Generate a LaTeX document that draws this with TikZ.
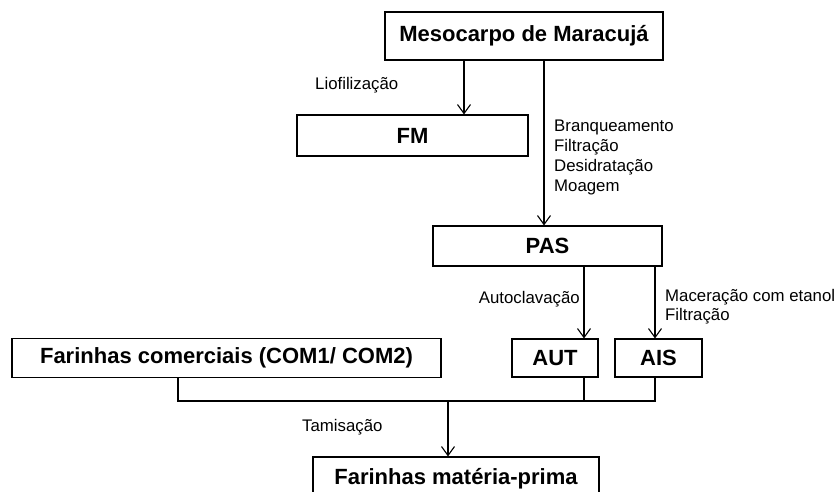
\documentclass[tikz,border=0pt]{standalone}
\usepackage{fontspec}
\setmainfont{Liberation Sans}
\usetikzlibrary{arrows.meta}
\tikzset{
  box/.style={draw, line width=1.1pt, rectangle, inner sep=0pt, font=\fontsize{22}{26}\selectfont\bfseries},
  lbl/.style={inner sep=0pt, font=\fontsize{16.8}{20}\selectfont, align=left},
  conn/.style={line width=1.1pt},
  arr/.style={conn, -{Straight Barb[length=9pt,width=13pt,line width=1.1pt]}}
}
\begin{document}
\begin{tikzpicture}[x=1pt,y=-1pt]
\useasboundingbox (0,0) rectangle (838,491);
\clip (0,0) rectangle (838,491);
% boxes
\node[box, minimum width=278pt, minimum height=48pt] (meso) at (524,36) {Mesocarpo de Maracujá};
\node[box, minimum width=231pt, minimum height=41pt] (fm) at (412.5,135.5) {FM};
\node[box, minimum width=229pt, minimum height=40pt] (pas) at (547.5,246) {PAS};
\node[box, minimum width=429pt, minimum height=39pt] (fc) at (226.5,358) {Farinhas comerciais (COM1/ COM2)};
\node[box, minimum width=86pt, minimum height=38pt] (aut) at (555,358) {AUT};
\node[box, minimum width=87pt, minimum height=38pt] (ais) at (658.5,358) {AIS};
\node[box, minimum width=286pt, minimum height=44pt] (bot) at (456,479) {Farinhas matéria-prima};
% labels
\node[lbl, anchor=west] (l1) at (315,85) {Liofilização};
\node[lbl, anchor=north west] (l2) at (554,120) {Branqueamento\\Filtração\\Desidratação\\Moagem};
\node[lbl, anchor=east] (l3) at (580,299) {Autoclavação};
\node[lbl, anchor=north west, font=\fontsize{16.8}{18.5}\selectfont] (l4) at (665,289.5) {Maceração com etanol\\Filtração};
\node[lbl, anchor=west] (l5) at (302,427) {Tamisação};
% connectors
\draw[arr] (meso.south -| 464,0) -- (fm.north -| 464,0);
\draw[arr] (meso.south -| 544,0) -- (pas.north -| 544,0);
\draw[arr] (pas.south -| 584,0) -- (aut.north -| 584,0);
\draw[arr] (pas.south -| 655,0) -- (ais.north -| 655,0);
\coordinate (j) at (448,401);
\draw[conn] (fc.south -| 178,0) |- (j);
\draw[conn] (ais.south -| 655,0) |- (j);
\draw[conn] (aut.south -| 584,0) -- (584,401);
\draw[arr] (j) -- (bot.north -| j);
\end{tikzpicture}
\end{document}
